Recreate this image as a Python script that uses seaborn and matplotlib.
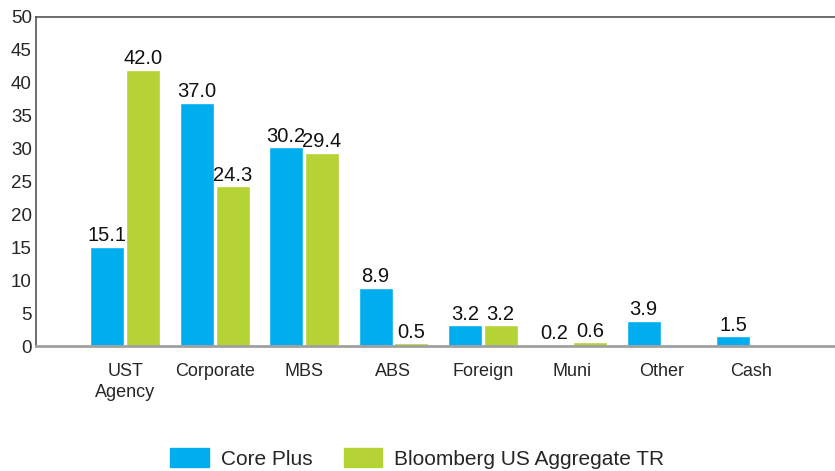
import matplotlib
matplotlib.use("Agg")
import matplotlib.pyplot as plt
from matplotlib import font_manager
import seaborn as sns
import numpy as np
import pandas as pd

categories = ["UST\nAgency", "Corporate", "MBS", "ABS", "Foreign", "Muni", "Other", "Cash"]
core_plus = [15.1, 37.0, 30.2, 8.9, 3.2, 0.2, 3.9, 1.5]
benchmark = [42.0, 24.3, 29.4, 0.5, 3.2, 0.6, np.nan, np.nan]
series_names = ["Core Plus", "Bloomberg US Aggregate TR"]
colors = ["#00AEEF", "#B5D334"]
y_ticks = list(range(0, 55, 5))

df = pd.DataFrame({
    "category": categories * 2,
    "value": core_plus + benchmark,
    "series": [series_names[0]] * len(categories) + [series_names[1]] * len(categories),
}).dropna()

sns.set_style("white")
names = {f.name for f in font_manager.fontManager.ttflist}
main_font = "Liberation Sans Narrow" if "Liberation Sans Narrow" in names else "Liberation Sans"
plt.rcParams["font.family"] = [main_font, "DejaVu Sans"]

fig = plt.figure(figsize=(8.35, 4.71), dpi=100)
ax = fig.add_axes([0.043, 0.265, 0.957, 0.699])

sns.barplot(data=df, x="category", y="value", hue="series", order=categories,
            hue_order=series_names, palette=colors, width=0.8, gap=0.05,
            saturation=1, ax=ax, legend=False)

for cont in ax.containers:
    ax.bar_label(cont, fmt="%.1f", padding=1, fontsize=14.5, color="#111111")

ax.set_xlim(-1.0, 7.94)
ax.set_ylim(0, 50)
ax.set_yticks(y_ticks)
ax.set_xlabel("")
ax.set_ylabel("")
ax.tick_params(axis="y", direction="in", length=7, width=1, color="#999999",
               labelsize=13.5, pad=3)
ax.tick_params(axis="x", length=0, labelsize=13, pad=12)
for lbl in ax.get_xticklabels():
    lbl.set_linespacing(1.35)

ax.spines["right"].set_visible(False)
ax.spines["top"].set_color("#555555")
ax.spines["top"].set_linewidth(1.2)
ax.spines["left"].set_color("#555555")
ax.spines["left"].set_linewidth(1.2)
ax.spines["bottom"].set_color("#A0A0A0")
ax.spines["bottom"].set_linewidth(2)

handles = [plt.Rectangle((0, 0), 1, 1, color=c) for c in colors]
fig.legend(handles, series_names, loc="lower center", bbox_to_anchor=(0.5, -0.035),
           ncol=2, frameon=False, fontsize=15, handlelength=1.83, handleheight=1.0,
           columnspacing=1.5, handletextpad=0.6)

fig.savefig("out.png", dpi=100)
